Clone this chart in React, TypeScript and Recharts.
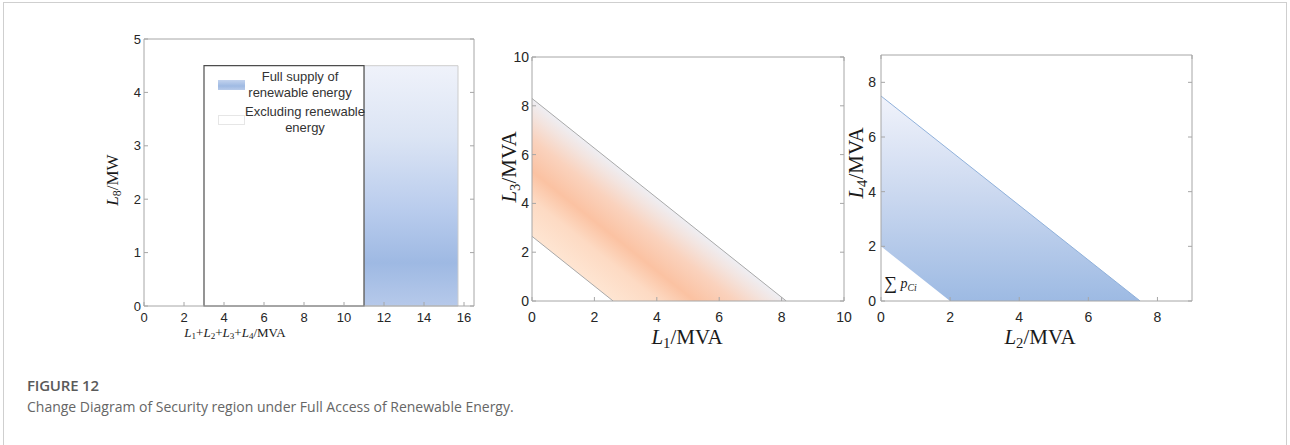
import React from "react";
import {
  ComposedChart,
  XAxis,
  YAxis,
  Area,
  Line,
  ReferenceArea,
  Label,
  Legend,
} from "recharts";

// ---- panel 1: L8 vs L1+L2+L3+L4 ----
const p1XTicks = [0, 2, 4, 6, 8, 10, 12, 14, 16];
const p1YTicks = [0, 1, 2, 3, 4, 5];
const p1Full = { x1: 11, x2: 15.7, y1: 0, y2: 4.5 };
const p1Base = { x1: 3, x2: 11, y1: 0, y2: 4.5 };
const p1LegendRows = [
  { lines: ["Full supply of", "renewable energy"], swatch: "full" },
  { lines: ["Excluding renewable", "energy"], swatch: "base" },
];

// ---- panel 2: L3 vs L1 ----
const p2Ticks = [0, 2, 4, 6, 8, 10];
const p2Band = [
  { x: 0, lo: 2.65, hi: 8.3 },
  { x: 2.6, lo: 0, hi: 5.65 },
  { x: 8.15, lo: 0, hi: 0 },
];
const p2Upper = [
  { x: 0, y: 8.3 },
  { x: 8.15, y: 0 },
];
const p2Lower = [
  { x: 0, y: 2.65 },
  { x: 2.6, y: 0 },
];

// ---- panel 3: L4 vs L2 ----
const p3Ticks = [0, 2, 4, 6, 8];
const p3Band = [
  { x: 0, lo: 2, hi: 7.5 },
  { x: 2, lo: 0, hi: 5.5 },
  { x: 7.5, lo: 0, hi: 0 },
];
const p3Upper = [
  { x: 0, y: 7.5 },
  { x: 7.5, y: 0 },
];

const SERIF = "'Liberation Serif', 'Times New Roman', serif";
const SANS = "'Liberation Sans', Arial, sans-serif";
const AXIS = "#a6a6a6";
const TICK_TEXT = "#262626";
const YW = 40;
const XH = 30;

type Frame = { x: number; y: number; w: number; h: number };
type Box = { left: number; top: number; right: number; bottom: number };

function margins(f: Frame, b: Box) {
  return {
    left: b.left - f.x - YW,
    top: b.top - f.y,
    right: f.x + f.w - b.right,
    bottom: f.y + f.h - b.bottom - XH,
  };
}

type Part = { t: string; i?: boolean; sub?: boolean; big?: boolean };

function MathText({
  x,
  y,
  parts,
  size,
  rotate = false,
  anchor = "middle",
}: {
  x: number;
  y: number;
  parts: Part[];
  size: number;
  rotate?: boolean;
  anchor?: "middle" | "start";
}) {
  const shift = size * 0.28;
  let wasSub = false;
  return (
    <text
      x={x}
      y={y}
      textAnchor={anchor}
      dominantBaseline="central"
      fontFamily={SERIF}
      fontSize={size}
      fill="#1a1a1a"
      transform={rotate ? `rotate(-90 ${x} ${y})` : undefined}
    >
      {parts.map((p, k) => {
        let dy = 0;
        if (p.sub && !wasSub) dy = shift;
        if (!p.sub && wasSub) dy = -shift;
        wasSub = !!p.sub;
        return (
          <tspan
            key={k}
            dy={dy || undefined}
            fontStyle={p.i ? "italic" : undefined}
            fontSize={p.sub ? size * 0.7 : p.big ? size * 1.3 : undefined}
          >
            {p.t}
          </tspan>
        );
      })}
    </text>
  );
}

const tickStyle = (size: number) => ({ fill: TICK_TEXT, fontSize: size, fontFamily: SANS });

function P1Legend() {
  return (
    <div style={{ fontFamily: SANS, fontSize: 13, color: "#333", lineHeight: "16px" }}>
      {p1LegendRows.map((r, k) => (
        <div key={k} style={{ display: "flex", alignItems: "center", marginTop: k ? 3 : 0 }}>
          <div
            style={{
              width: 27,
              height: 10,
              marginLeft: 6,
              boxSizing: "border-box",
              background:
                r.swatch === "full"
                  ? "linear-gradient(180deg,#c3d3ee,#9fbae3 60%,#b8cbea)"
                  : "#fff",
              border: r.swatch === "full" ? "none" : "1px solid #e6e6e6",
            }}
          />
          <div style={{ width: k ? 120 : 110, textAlign: "center", whiteSpace: "nowrap" }}>
            {r.lines.map((l) => (
              <div key={l}>{l}</div>
            ))}
          </div>
        </div>
      ))}
    </div>
  );
}

const F1: Frame = { x: 60, y: 10, w: 440, h: 340 };
const B1: Box = { left: 144, top: 39, right: 474, bottom: 306 };
const F2: Frame = { x: 480, y: 20, w: 375, h: 340 };
const B2: Box = { left: 532, top: 57, right: 844, bottom: 301 };
const F3: Frame = { x: 830, y: 20, w: 400, h: 340 };
const B3: Box = { left: 881, top: 55, right: 1192, bottom: 301 };

function Panel1() {
  const f = F1;
  return (
    <div style={{ position: "absolute", left: f.x, top: f.y }}>
      <ComposedChart width={f.w} height={f.h} margin={margins(f, B1)}>
        <defs>
          <linearGradient id="p1Blue" x1="0" y1="0" x2="0" y2="1">
            <stop offset="0" stopColor="#eff2fa" />
            <stop offset="0.3" stopColor="#dbe4f4" />
            <stop offset="0.6" stopColor="#b9cced" />
            <stop offset="0.82" stopColor="#9eb9e3" />
            <stop offset="1" stopColor="#b6c9ea" />
          </linearGradient>
        </defs>
        <XAxis
          type="number"
          dataKey="x"
          domain={[0, 16.5]}
          ticks={p1XTicks}
          interval={0}
          height={XH}
          allowDataOverflow
          tickSize={-4}
          tickMargin={11}
          stroke={AXIS}
          tick={tickStyle(13)}
        >
          <Label
            content={() => (
              <MathText
                x={235 - f.x}
                y={332 - f.y}
                size={13}
                parts={[
                  { t: "L", i: true },
                  { t: "1", sub: true },
                  { t: "+" },
                  { t: "L", i: true },
                  { t: "2", sub: true },
                  { t: "+" },
                  { t: "L", i: true },
                  { t: "3", sub: true },
                  { t: "+" },
                  { t: "L", i: true },
                  { t: "4", sub: true },
                  { t: "/MVA" },
                ]}
              />
            )}
          />
        </XAxis>
        <XAxis
          xAxisId="top"
          orientation="top"
          mirror
          type="number"
          domain={[0, 16.5]}
          ticks={p1XTicks}
          interval={0}
          allowDataOverflow
          tickSize={4}
          stroke={AXIS}
          tickFormatter={() => ""}
        />
        <YAxis
          type="number"
          domain={[0, 5]}
          ticks={p1YTicks}
          interval={0}
          width={YW}
          allowDataOverflow
          tickSize={-4}
          tickMargin={7}
          stroke={AXIS}
          tick={tickStyle(13)}
        >
          <Label
            content={() => (
              <MathText
                x={112 - f.x}
                y={180 - f.y}
                size={17}
                rotate
                parts={[{ t: "L", i: true }, { t: "8", sub: true }, { t: "/MW" }]}
              />
            )}
          />
        </YAxis>
        <YAxis
          yAxisId="right"
          orientation="right"
          mirror
          type="number"
          domain={[0, 5]}
          ticks={p1YTicks}
          interval={0}
          allowDataOverflow
          tickSize={4}
          stroke={AXIS}
          tickFormatter={() => ""}
        />
        <ReferenceArea
          x1={p1Full.x1}
          x2={p1Full.x2}
          y1={p1Full.y1}
          y2={p1Full.y2}
          fill="url(#p1Blue)"
          fillOpacity={1}
          stroke="#cdcdcd"
          strokeWidth={1}
        />
        <ReferenceArea
          x1={p1Base.x1}
          x2={p1Base.x2}
          y1={p1Base.y1}
          y2={p1Base.y2}
          fill="#ffffff"
          fillOpacity={1}
          stroke="#4d4d4d"
          strokeWidth={1.2}
        />
        <Legend
          layout="vertical"
          align="center"
          verticalAlign="middle"
          content={() => <P1Legend />}
          wrapperStyle={{ left: 212 - f.x, top: 69 - f.y, width: 180 }}
        />
      </ComposedChart>
    </div>
  );
}

function Panel2() {
  const f = F2;
  return (
    <div style={{ position: "absolute", left: f.x, top: f.y }}>
      <ComposedChart width={f.w} height={f.h} margin={margins(f, B2)} data={p2Band}>
        <defs>
          <linearGradient id="p2Orange" x1="0" y1="1" x2="1" y2="0">
            <stop offset="0.16" stopColor="#fee5d2" />
            <stop offset="0.25" stopColor="#fddac3" />
            <stop offset="0.32" stopColor="#fbc2a2" />
            <stop offset="0.40" stopColor="#fad2bd" />
            <stop offset="0.46" stopColor="#f3e4df" />
            <stop offset="0.5" stopColor="#eeeef3" />
          </linearGradient>
        </defs>
        <XAxis
          type="number"
          dataKey="x"
          domain={[0, 10]}
          ticks={p2Ticks}
          interval={0}
          height={XH}
          allowDataOverflow
          tickSize={-4}
          tickMargin={15}
          stroke={AXIS}
          tick={tickStyle(14)}
        >
          <Label
            content={() => (
              <MathText
                x={687 - f.x}
                y={337 - f.y}
                size={21}
                parts={[{ t: "L", i: true }, { t: "1", sub: true }, { t: "/MVA" }]}
              />
            )}
          />
        </XAxis>
        <XAxis
          xAxisId="top"
          orientation="top"
          mirror
          type="number"
          domain={[0, 10]}
          ticks={p2Ticks}
          interval={0}
          allowDataOverflow
          tickSize={4}
          stroke={AXIS}
          tickFormatter={() => ""}
        />
        <YAxis
          type="number"
          domain={[0, 10]}
          ticks={p2Ticks}
          interval={0}
          width={YW}
          allowDataOverflow
          tickSize={-4}
          tickMargin={7}
          stroke={AXIS}
          tick={tickStyle(14)}
        >
          <Label
            content={() => (
              <MathText
                x={509 - f.x}
                y={167 - f.y}
                size={21}
                rotate
                parts={[{ t: "L", i: true }, { t: "3", sub: true }, { t: "/MVA" }]}
              />
            )}
          />
        </YAxis>
        <YAxis
          yAxisId="right"
          orientation="right"
          mirror
          type="number"
          domain={[0, 10]}
          ticks={p2Ticks}
          interval={0}
          allowDataOverflow
          tickSize={4}
          stroke={AXIS}
          tickFormatter={() => ""}
        />
        <Area
          type="linear"
          dataKey={(d: any) => [d.lo, d.hi]}
          stroke="none"
          fill="url(#p2Orange)"
          fillOpacity={1}
          isAnimationActive={false}
        />
        <Line data={p2Upper} dataKey="y" type="linear" stroke="#a8a8a8" strokeWidth={1} dot={false} isAnimationActive={false} />
        <Line data={p2Lower} dataKey="y" type="linear" stroke="#a8a8a8" strokeWidth={1} dot={false} isAnimationActive={false} />
      </ComposedChart>
    </div>
  );
}

function Panel3() {
  const f = F3;
  return (
    <div style={{ position: "absolute", left: f.x, top: f.y }}>
      <ComposedChart width={f.w} height={f.h} margin={margins(f, B3)} data={p3Band}>
        <defs>
          <linearGradient id="p3Blue" x1="0" y1="0" x2="0" y2="1">
            <stop offset="0" stopColor="#f1f3fb" />
            <stop offset="0.5" stopColor="#c9d7ef" />
            <stop offset="1" stopColor="#9dbae3" />
          </linearGradient>
        </defs>
        <XAxis
          type="number"
          dataKey="x"
          domain={[0, 9]}
          ticks={p3Ticks}
          interval={0}
          height={XH}
          allowDataOverflow
          tickSize={-4}
          tickMargin={15}
          stroke={AXIS}
          tick={tickStyle(14)}
        >
          <Label
            content={() => (
              <MathText
                x={1040 - f.x}
                y={337 - f.y}
                size={21}
                parts={[{ t: "L", i: true }, { t: "2", sub: true }, { t: "/MVA" }]}
              />
            )}
          />
          <Label
            content={() => (
              <MathText
                x={884 - f.x}
                y={283 - f.y}
                size={14}
                anchor="start"
                parts={[{ t: "∑", big: true }, { t: " p", i: true }, { t: "Ci", i: true, sub: true }]}
              />
            )}
          />
        </XAxis>
        <XAxis
          xAxisId="top"
          orientation="top"
          mirror
          type="number"
          domain={[0, 9]}
          ticks={p3Ticks}
          interval={0}
          allowDataOverflow
          tickSize={4}
          stroke={AXIS}
          tickFormatter={() => ""}
        />
        <YAxis
          type="number"
          domain={[0, 9]}
          ticks={p3Ticks}
          interval={0}
          width={YW}
          allowDataOverflow
          tickSize={-4}
          tickMargin={9}
          stroke={AXIS}
          tick={tickStyle(14)}
        >
          <Label
            content={() => (
              <MathText
                x={856 - f.x}
                y={163 - f.y}
                size={21}
                rotate
                parts={[{ t: "L", i: true }, { t: "4", sub: true }, { t: "/MVA" }]}
              />
            )}
          />
        </YAxis>
        <YAxis
          yAxisId="right"
          orientation="right"
          mirror
          type="number"
          domain={[0, 9]}
          ticks={p3Ticks}
          interval={0}
          allowDataOverflow
          tickSize={4}
          stroke={AXIS}
          tickFormatter={() => ""}
        />
        <Area
          type="linear"
          dataKey={(d: any) => [d.lo, d.hi]}
          stroke="none"
          fill="url(#p3Blue)"
          fillOpacity={1}
          isAnimationActive={false}
        />
        <Line data={p3Upper} dataKey="y" type="linear" stroke="#8fb0da" strokeWidth={1} dot={false} isAnimationActive={false} />
      </ComposedChart>
    </div>
  );
}

export default function App() {
  return (
    <div
      style={{
        position: "absolute",
        left: 0,
        top: 0,
        width: 1290,
        height: 445,
        overflow: "hidden",
        background: "#fff",
      }}
    >
      <div
        style={{
          position: "absolute",
          left: 3,
          top: 2,
          width: 1282,
          height: 480,
          border: "1px solid #cfcfcf",
        }}
      />
      <Panel1 />
      <Panel2 />
      <Panel3 />
      <div
        style={{
          position: "absolute",
          left: 27,
          top: 375,
          fontFamily: "'Open Sans', 'Noto Sans', sans-serif",
          fontWeight: 600,
          fontSize: 15,
          lineHeight: "20px",
          letterSpacing: "-0.2px",
          color: "#5a5a5a",
        }}
      >
        FIGURE 12
      </div>
      <div
        style={{
          position: "absolute",
          left: 27,
          top: 397,
          fontFamily: "'Open Sans', 'Noto Sans', sans-serif",
          fontSize: 14,
          lineHeight: "20px",
          color: "#666",
          whiteSpace: "nowrap",
        }}
      >
        Change Diagram of Security region under Full Access of Renewable Energy.
      </div>
    </div>
  );
}
